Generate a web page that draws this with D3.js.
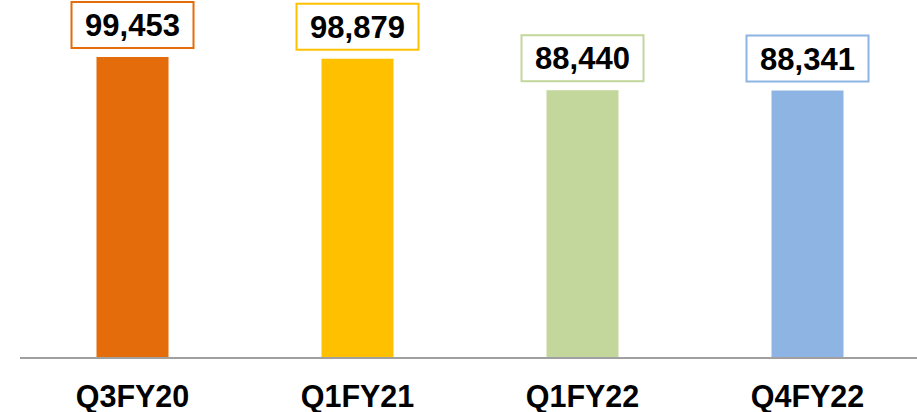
<!DOCTYPE html>
<html>
<head>
<meta charset="utf-8">
<script src="https://cdn.jsdelivr.net/npm/d3@7"></script>
<style>
  body { margin: 0; background: #fff; }
  text { font-family: Arial, "Liberation Sans", sans-serif; font-weight: bold; }
</style>
</head>
<body>
<div id="chart"></div>
<script>
// chart data
const categories = ["Q3FY20", "Q1FY21", "Q1FY22", "Q4FY22"];
const values = [99453, 98879, 88440, 88341];
const colors = ["#E46C0A", "#FFC000", "#C3D69B", "#8EB4E3"];

const width = 917, height = 412;
const baseY = 357;

const svg = d3.select("#chart")
    .append("svg")
    .attr("width", width)
    .attr("height", height);

const x = d3.scaleBand()
    .domain(categories)
    .range([20, 920])
    .paddingInner(0.68)
    .paddingOuter(0.34);

const y = d3.scaleLinear()
    .domain([0, d3.max(values)])
    .range([baseY, 57]);

// bars
svg.selectAll("rect.bar")
    .data(values)
    .join("rect")
    .attr("class", "bar")
    .attr("x", (d, i) => x(categories[i]))
    .attr("y", d => y(d))
    .attr("width", x.bandwidth())
    .attr("height", d => baseY - y(d))
    .attr("fill", (d, i) => colors[i]);

// baseline
svg.append("line")
    .attr("x1", 20)
    .attr("x2", width)
    .attr("y1", baseY + 1)
    .attr("y2", baseY + 1)
    .attr("stroke", "#a0a0a0")
    .attr("stroke-width", 2);

// category labels
svg.selectAll("text.cat")
    .data(categories)
    .join("text")
    .attr("class", "cat")
    .attr("x", d => x(d) + x.bandwidth() / 2)
    .attr("y", 407)
    .attr("text-anchor", "middle")
    .attr("font-size", 30.5)
    .attr("fill", "#000")
    .text(d => d);

// value labels in boxes
const boxW = 122, boxH = 46;
const labels = svg.selectAll("g.label")
    .data(values)
    .join("g")
    .attr("class", "label")
    .attr("transform", (d, i) =>
        `translate(${x(categories[i]) + x.bandwidth() / 2},${y(d) - 9 - boxH / 2})`);

labels.append("rect")
    .attr("x", -boxW / 2)
    .attr("y", -boxH / 2)
    .attr("width", boxW)
    .attr("height", boxH)
    .attr("fill", "#fff")
    .attr("stroke", (d, i) => colors[i])
    .attr("stroke-width", 2);

labels.append("text")
    .attr("text-anchor", "middle")
    .attr("dy", "0.36em")
    .attr("font-size", 31)
    .attr("fill", "#000")
    .text(d => d3.format(",")(d));
</script>
</body>
</html>
